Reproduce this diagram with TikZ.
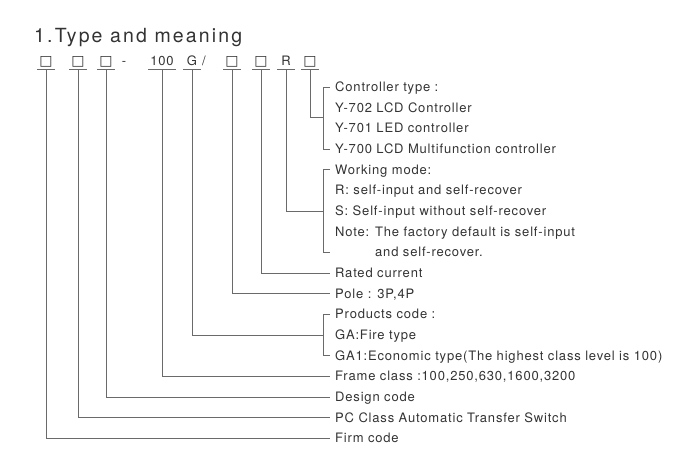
\documentclass[tikz,border=0pt]{standalone}
\usepackage{fontspec}
\setmainfont{TeX Gyre Heros}
\newfontfamily\tmtextfont[LetterSpace=6.3]{TeX Gyre Heros}
\newfontfamily\tmheadfont[LetterSpace=11]{TeX Gyre Heros}
\newfontfamily\symfont{DejaVu Sans}
\usepackage{tikz}
\usetikzlibrary{calc}
\definecolor{tmink}  {HTML}{333333}
\definecolor{tmlead} {HTML}{6A6A6A}
\tikzset{
  tmtitle/.style={anchor=base west, inner sep=0pt, text=tmink,
                  font=\tmheadfont\fontsize{19.5}{22}\selectfont},
  tmcode/.style={anchor=base, inner sep=0pt, text height=9pt, text depth=4pt,
                 minimum width=18pt, text=tmink, font=\tmtextfont\fontsize{13}{15}\selectfont},
  tmbox/.style={tmcode, font=\symfont\fontsize{14}{16}\selectfont},
  tmlabel/.style={anchor=west, inner xsep=5pt, inner ysep=0pt, text height=9pt,
                  text depth=0pt, text=tmink, font=\tmtextfont\fontsize{13}{15}\selectfont},
  tmline/.style={draw=tmlead, line width=0.8pt},
}
\begin{document}
\begin{tikzpicture}[x=1pt,y=-1pt]
  \useasboundingbox (0,0) rectangle (694,471);
  \node[tmtitle] (title) at (34,42) {1.Type and meaning};
  % code row
  \node[tmbox]  (firmsq) at (46,65)  {□};
  \node[tmbox]  (pcsq)   at (78,65)  {□};
  \node[tmbox]  (dessq)  at (106,65) {□};
  \node[tmcode, minimum width=0pt] (dash) at (124,65) {-};
  \node[tmcode, minimum width=27pt] (frame) at (162,65) {100};
  \node[tmcode] (prod)   at (192,65) {G};
  \node[tmcode, minimum width=0pt] (slash) at (204,65) {/};
  \node[tmbox]  (polesq) at (232,65) {□};
  \node[tmbox]  (cursq)  at (261,65) {□};
  \node[tmcode] (mode)   at (286,65) {R};
  \node[tmbox]  (ctlsq)  at (310,65) {□};
  \foreach \c in {firmsq,pcsq,dessq,frame,prod,polesq,cursq,mode,ctlsq}
    \draw[tmline] (\c.south west) -- (\c.south east);
  % meanings
  \node[tmlabel] (ctlA)  at (330,87)    {Controller type :};
  \node[tmlabel] (ctlB)  at (330,107.6) {Y-702 LCD Controller};
  \node[tmlabel] (ctlC)  at (330,128.3) {Y-701 LED controller};
  \node[tmlabel] (ctlD)  at (330,149)   {Y-700 LCD Multifunction controller};
  \node[tmlabel] (wmA)   at (330,169.6) {Working mode:};
  \node[tmlabel] (wmR)   at (330,190.3) {R: self-input and self-recover};
  \node[tmlabel] (wmS)   at (330,211)   {S: Self-input without self-recover};
  \node[tmlabel] (noteA) at (330,231.6) {Note: The factory default is self-input};
  \node[tmlabel] (noteB) at (330,252.3) {\hspace*{40pt}and self-recover.};
  \node[tmlabel] (rated) at (330,273)   {Rated current};
  \node[tmlabel] (pole)  at (330,293.6) {Pole : 3P,4P};
  \node[tmlabel] (prA)   at (330,314.3) {Products code :};
  \node[tmlabel] (prB)   at (330,335)   {GA:Fire type};
  \node[tmlabel] (prC)   at (330,355.6) {GA1:Economic type(The highest class level is 100)};
  \node[tmlabel] (frcl)  at (330,376.3) {Frame class :100,250,630,1600,3200};
  \node[tmlabel] (desc)  at (330,397)   {Design code};
  \node[tmlabel] (pccl)  at (330,417.6) {PC Class Automatic Transfer Switch};
  \node[tmlabel] (firm)  at (330,438.3) {Firm code};
  % brackets
  \coordinate (brk) at (323,0);
  \coordinate (ctlin) at (323,117);
  \draw[tmline] (ctlA.west) -| (brk |- ctlD.west) -- (ctlD.west);
  \draw[tmline] (wmA.west) -| (brk |- noteB.west) -- (noteB.west);
  \draw[tmline] (prA.west) -| (brk |- prC.west) -- (prC.west);
  % leads
  \draw[tmline] (ctlsq.south)  |- (ctlin);
  \draw[tmline] (mode.south)   |- (brk |- wmS.west);
  \draw[tmline] (cursq.south)  |- (rated.west);
  \draw[tmline] (polesq.south) |- (pole.west);
  \draw[tmline] (prod.south)   |- (brk |- prB.west);
  \draw[tmline] (frame.south)  |- (frcl.west);
  \draw[tmline] (dessq.south)  |- (desc.west);
  \draw[tmline] (pcsq.south)   |- (pccl.west);
  \draw[tmline] (firmsq.south) |- (firm.west);
\end{tikzpicture}
\end{document}
